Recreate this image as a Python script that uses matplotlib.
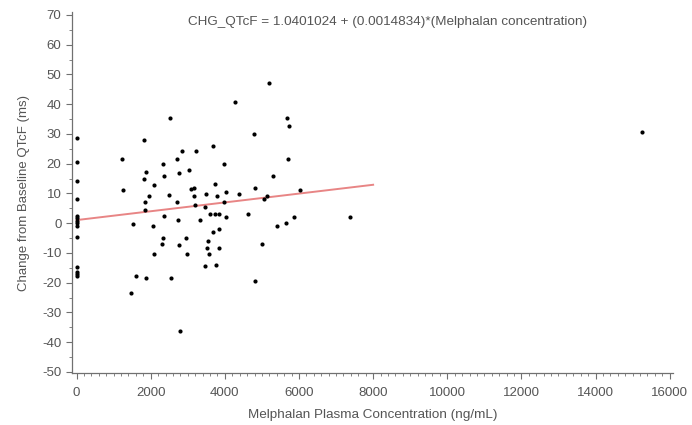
import matplotlib
matplotlib.use("Agg")
import matplotlib.pyplot as plt
import numpy as np
from matplotlib.ticker import MultipleLocator

plt.rcParams['font.family'] = ['Liberation Sans', 'DejaVu Sans']
plt.rcParams['axes.unicode_minus'] = False

# Melphalan plasma concentration (ng/mL)
conc = [0]*14 + [
    1220, 1240, 1520, 1470, 1600, 1810, 1860, 1820, 2090, 1960, 1840, 1840, 1880, 2050, 2090,
    2340, 2360, 2520, 2490, 2350, 2300, 2330, 2550, 2700, 2760, 2840, 2720, 2745, 2760, 2780,
    3030, 2940, 2990, 3080, 3160, 3220, 3165, 3190, 3330, 3460, 3500, 3460, 3540, 3525, 3575,
    3610, 3680, 3740, 3680, 3740, 3850, 3800, 3830, 3830, 3770, 3975, 3975, 4020, 4020, 4270,
    4370, 4620, 4785, 4805, 4820, 5000, 5050, 5150, 5190, 5295, 5400, 5645, 5665, 5730, 5710,
    5870, 6030, 7370, 15250]
# Change from baseline QTcF (ms)
dqtcf = [28.7, 20.4, 14.3, 8.0, 2.3, 1.6, 0.8, -0.1, -0.9, -4.6, -14.8, -16.5, -17.1, -17.9,
    21.7, 11.0, -0.4, -23.5, -17.9, 27.9, 17.3, 14.8, 12.9, 9.3, 7.0, 4.5, -18.5, -0.9, -10.4,
    19.8, 15.9, 35.3, 9.4, 2.4, -7.1, -4.9, -18.4, 21.7, 16.8, 24.2, 7.0, 1.0, -7.4, -36.1,
    17.8, -4.9, -10.4, 11.5, 11.8, 24.2, 9.0, 6.1, 1.0, 5.6, 9.8, -14.4, -6.0, -8.4, -10.3,
    3.0, 25.8, 13.3, -3.0, 3.0, 3.0, 9.0, -2.0, -8.4, -13.9, 19.8, 7.2, 10.4, 2.0, 40.7,
    9.9, 3.0, 29.8, 11.9, -19.4, -7.1, 8.0, 9.1, 47.2, 15.9, -0.9, -0.1, 35.3, 32.7, 21.7,
    2.0, 11.0, 2.0, 30.8]

intercept = 1.0401024
slope = 0.0014834
fit_x = [0, 8000]

title = "CHG_QTcF = 1.0401024 + (0.0014834)*(Melphalan concentration)"
xlabel = "Melphalan Plasma Concentration (ng/mL)"
ylabel = "Change from Baseline QTcF (ms)"

fig = plt.figure(figsize=(6.92, 4.25), dpi=100)
ax = fig.add_axes([0.104, 0.122, 0.868, 0.85])

fx = np.array(fit_x, dtype=float)
ax.plot(fx, intercept + slope * fx, color='#e88585', lw=1.4, zorder=2)
ax.scatter(conc, dqtcf, s=9, color='black', zorder=3, linewidths=0)

ax.set_xlim(-125, 16080)
ax.set_ylim(-50.4, 71)
ax.xaxis.set_major_locator(MultipleLocator(2000))
ax.xaxis.set_minor_locator(MultipleLocator(200))
ax.yaxis.set_major_locator(MultipleLocator(10))
ax.yaxis.set_minor_locator(MultipleLocator(5))

for s in ['top', 'right']:
    ax.spines[s].set_visible(False)
for s in ['left', 'bottom']:
    ax.spines[s].set_color('#707070')
    ax.spines[s].set_linewidth(0.9)

ax.tick_params(which='major', direction='out', length=4, width=0.8, color='#707070',
               labelcolor='#555555', labelsize=9.5)
ax.tick_params(axis='x', which='major', pad=6)
ax.tick_params(which='minor', direction='out', length=2, width=0.6, color='#707070')

ax.set_xlabel(xlabel, color='#555555', fontsize=9.7, labelpad=7)
ax.set_ylabel(ylabel, color='#555555', fontsize=9.5, labelpad=9)

fig.text(388/692, 1 - 22/425, title, ha='center', va='center', color='#555555', fontsize=9.7)

fig.savefig('out.png', dpi=100)
